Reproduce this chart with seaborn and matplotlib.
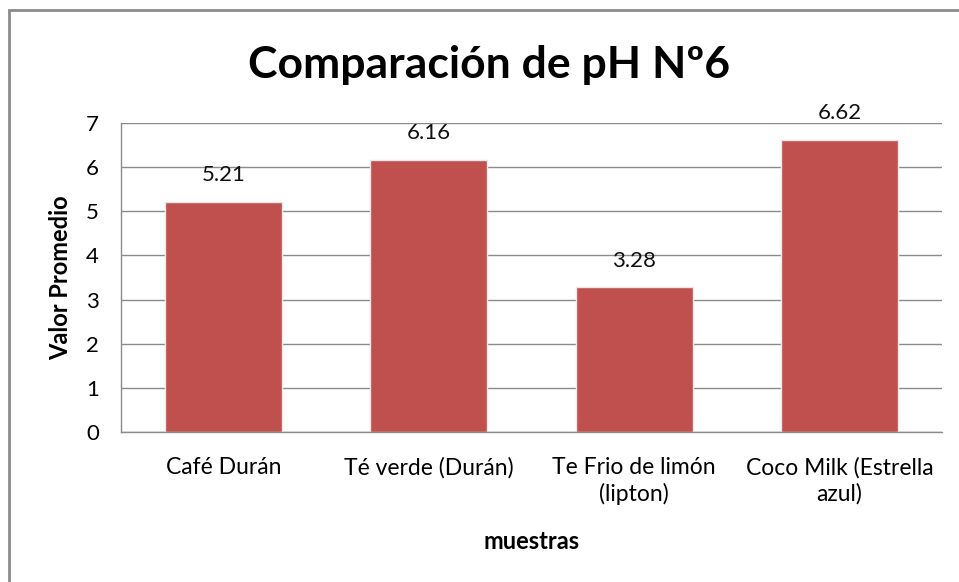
import pandas as pd
import seaborn as sns
import matplotlib.pyplot as plt
from matplotlib.patches import Rectangle

# data
muestras = ["Café Durán", "Té verde (Durán)", "Te Frio de limón\n(lipton)", "Coco Milk (Estrella\nazul)"]
valores = [5.21, 6.16, 3.28, 6.62]
yticks = [0, 1, 2, 3, 4, 5, 6, 7]

df = pd.DataFrame({"muestras": muestras, "valor": valores})

sns.set_style("white")
plt.rcParams['font.family'] = ['Lato', 'DejaVu Sans']
plt.rcParams['text.color'] = 'black'
plt.rcParams['xtick.color'] = 'black'
plt.rcParams['ytick.color'] = 'black'
plt.rcParams['axes.labelcolor'] = 'black'

fig = plt.figure(figsize=(9.59, 5.82), dpi=100)
ax = fig.add_axes([121/959, 1 - 432/582, (942-121)/959, (432-123)/582])

sns.barplot(data=df, x="muestras", y="valor", color="#C0504D", width=0.57,
            saturation=1, edgecolor="#e8e8e8", linewidth=1, ax=ax)

ax.bar_label(ax.containers[0], labels=[f"{v:.2f}" for v in valores],
             padding=12, fontsize=16, color="#111111")

ax.set_ylim(0, 7)
ax.set_xlim(-0.5, 3.5)
ax.set_yticks(yticks)
ax.set_yticklabels([str(t) for t in yticks], fontsize=16)
ax.tick_params(axis='x', labelsize=16.5, length=0, pad=18)
ax.tick_params(axis='y', length=0, pad=16)
for lbl in ax.get_xticklabels():
    lbl.set_linespacing(1.25)
ax.yaxis.grid(True, color="#8c8c8c", linewidth=1)
ax.set_axisbelow(True)
for s in ["top", "right"]:
    ax.spines[s].set_visible(False)
for s in ["left", "bottom"]:
    ax.spines[s].set_color("#8c8c8c")
    ax.spines[s].set_linewidth(1)

ax.set_xlabel("muestras", fontsize=17, fontweight="bold", labelpad=18)
ax.set_ylabel("Valor Promedio", fontsize=17, fontweight="bold", labelpad=10)

fig.text(0.5 + 10/959, 1 - 65/582, "Comparación de pH Nº6", ha="center", va="center",
         fontsize=32, fontweight="bold", color="black")

# outer chart border like the spreadsheet frame
fig.patches.append(Rectangle((8.5/959, -0.01), 1.0, 1 - 10/582 + 0.01,
                             transform=fig.transFigure, fill=False,
                             edgecolor="#8c8c8c", linewidth=2))

fig.savefig("out.png", dpi=100)
